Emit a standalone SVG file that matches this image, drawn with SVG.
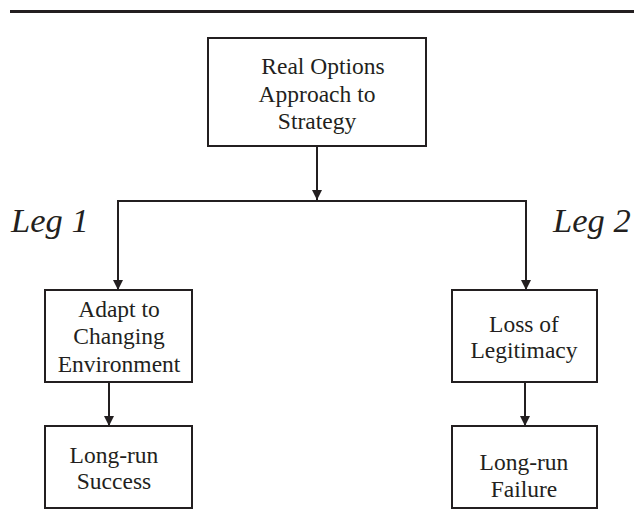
<svg xmlns="http://www.w3.org/2000/svg" width="634" height="517" viewBox="0 0 634 517">
<style>
.box{fill:#fff;stroke:#231f20;stroke-width:2}
.t{font-family:"Liberation Serif","Times New Roman",serif;font-size:23.5px;fill:#231f20;text-anchor:middle}
.leg{font-family:"Liberation Serif","Times New Roman",serif;font-size:34.5px;font-style:italic;fill:#231f20}
.c{fill:none;stroke:#231f20;stroke-width:2}
</style>
<defs>
<marker id="ah" viewBox="0 0 10 10" refX="10" refY="5" markerWidth="5" markerHeight="5" markerUnits="strokeWidth" orient="auto">
<path d="M0,0 L10,5 L0,10 Z" fill="#231f20"/>
</marker>
</defs>
<rect x="10" y="10" width="624" height="3" fill="#231f20"/>
<g id="connectors">
<line class="c" x1="317" y1="146" x2="317" y2="200" marker-end="url(#ah)"/>
<polyline class="c" points="118,290 118,201 526,201 526,290"/>
<line class="c" x1="118" y1="270" x2="118" y2="290" marker-end="url(#ah)"/>
<line class="c" x1="526" y1="270" x2="526" y2="290" marker-end="url(#ah)"/>
<line class="c" x1="109" y1="382" x2="109" y2="426" marker-end="url(#ah)"/>
<line class="c" x1="525" y1="382" x2="525" y2="426" marker-end="url(#ah)"/>
</g>
<g id="root">
<rect class="box" x="208" y="38" width="218" height="108"/>
<text class="t" x="323" y="74">Real Options</text>
<text class="t" x="317" y="102">Approach to</text>
<text class="t" x="317" y="129">Strategy</text>
</g>
<g id="leg1"><text class="leg" x="11" y="232">Leg 1</text></g>
<g id="leg2"><text class="leg" x="553" y="232">Leg 2</text></g>
<g id="adapt">
<rect class="box" x="45" y="290" width="147" height="92"/>
<text class="t" x="119" y="317">Adapt to</text>
<text class="t" x="119" y="344">Changing</text>
<text class="t" x="119" y="372">Environment</text>
</g>
<g id="success">
<rect class="box" x="45" y="426" width="147" height="82"/>
<text class="t" x="114" y="463">Long-run</text>
<text class="t" x="114" y="489">Success</text>
</g>
<g id="loss">
<rect class="box" x="452" y="290" width="145" height="92"/>
<text class="t" x="524" y="332">Loss of</text>
<text class="t" x="524" y="358">Legitimacy</text>
</g>
<g id="failure">
<rect class="box" x="452" y="426" width="145" height="82"/>
<text class="t" x="524" y="470">Long-run</text>
<text class="t" x="524" y="497">Failure</text>
</g>
</svg>
